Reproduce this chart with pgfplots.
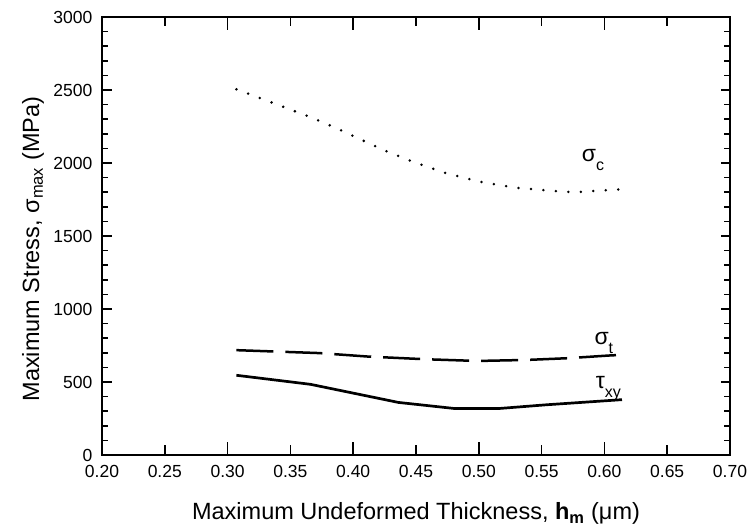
\documentclass[border=0pt]{standalone}
\usepackage{fontspec}
\setmainfont{Liberation Sans}
\usepackage{pgfplots}
\pgfplotsset{compat=1.18}

\begin{document}
\begin{tikzpicture}
\begin{axis}[
    scale only axis, width=628pt, height=438pt,
    xmin=0.2, xmax=0.7, ymin=0, ymax=3000,
    xtick={0.2,0.25,0.3,0.35,0.4,0.45,0.5,0.55,0.6,0.65,0.7},
    ytick={0,500,1000,1500,2000,2500,3000},
    minor y tick num=4,
    extra x ticks={0.3,0.4,0.5,0.6}, extra x tick labels={},
    extra tick style={major tick length=13pt},
    major tick length=9.5pt, minor tick length=6pt,
    tick align=inside,
    axis line style={line width=1.8pt},
    tick style={line width=1.5pt, black},
    /pgf/number format/assume math mode=true,
    /pgf/number format/set thousands separator={},
    xticklabel={\pgfmathprintnumber[fixed,fixed zerofill,precision=2]{\tick}},
    xticklabel style={font=\fontsize{17.5}{19}\selectfont, inner sep=0pt, anchor=north, yshift=-10.5pt},
    yticklabel style={font=\fontsize{17.5}{19}\selectfont, inner sep=0pt, anchor=east, xshift=-9.5pt},
    xlabel={Maximum Undeformed Thickness, \textbf{h\textsubscript{m}} (μm)},
    ylabel={Maximum Stress, σ\textsubscript{max} (MPa)},
    label style={font=\fontsize{23.5}{26}\selectfont, inner sep=0pt},
    xlabel style={at={(axis description cs:0.5,-0.148)}, anchor=base},
    ylabel style={at={(axis description cs:-0.092,0.47)}, anchor=south},
]
% sigma_c (dotted)
\addplot[black, line width=2.8pt, line cap=round, dash pattern=on 0pt off 12.5pt] coordinates {
(0.307,2505) (0.327,2441) (0.346,2379) (0.366,2314) (0.386,2241) (0.406,2161)
(0.425,2086) (0.444,2020) (0.472,1935) (0.501,1871) (0.529,1831) (0.556,1811)
(0.576,1799) (0.595,1811) (0.614,1820)};
% sigma_t (dashed)
\addplot[black, line width=2.5pt, dash pattern=on 37pt off 12pt] coordinates {
(0.307,718) (0.373,698) (0.412,674) (0.457,656) (0.499,644) (0.538,651)
(0.571,663) (0.603,681) (0.614,686)};
% tau_xy (solid)
\addplot[black, line width=2.7pt] coordinates {
(0.307,546) (0.366,484) (0.436,360) (0.480,319) (0.517,319) (0.554,344) (0.614,379)};
\node[anchor=base west, inner sep=0pt, font=\fontsize{23}{25}\selectfont] at (axis cs:0.582,2007) {σ\raisebox{-0.35em}{\fontsize{16}{16}\selectfont c}};
\node[anchor=base west, inner sep=0pt, font=\fontsize{23}{25}\selectfont] at (axis cs:0.592,759) {σ\raisebox{-0.4em}{\fontsize{16}{16}\selectfont t}};
\node[anchor=base west, inner sep=0pt, font=\fontsize{23}{25}\selectfont] at (axis cs:0.593,455) {τ\raisebox{-0.4em}{\fontsize{16}{16}\selectfont xy}};
\end{axis}
\pgfresetboundingbox
\path ([shift={(-102pt,-73pt)}]current axis.south west) rectangle ([shift={(20pt,17pt)}]current axis.north east);
\end{tikzpicture}
\end{document}
